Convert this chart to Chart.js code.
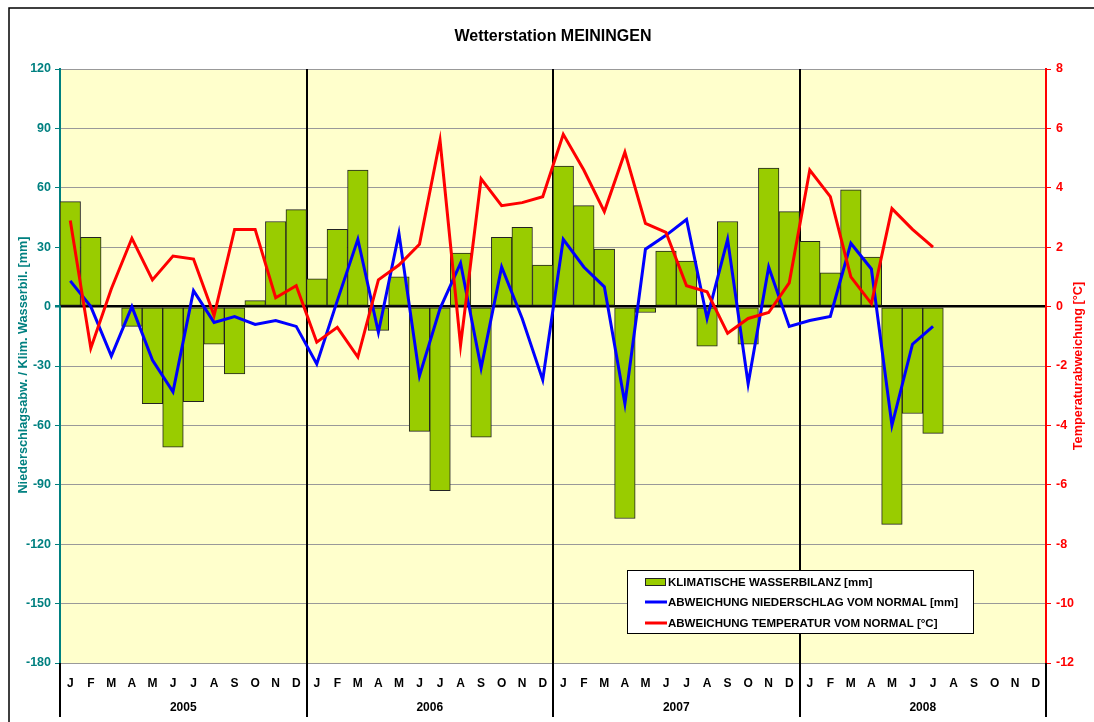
<!DOCTYPE html>
<html>
<head>
<meta charset="utf-8">
<title>Wetterstation MEININGEN</title>
<script src="https://cdn.jsdelivr.net/npm/chart.js@4.4.0/dist/chart.umd.min.js"></script>
<style>
  html, body { margin: 0; padding: 0; background: #fff; }
  #chart { display: block; }
</style>
</head>
<body>
<canvas id="chart" width="1094" height="722"></canvas>
<script>
// --- Data (Jan 2005 - Jul 2008) ---
const months = ['J', 'F', 'M', 'A', 'M', 'J', 'J', 'A', 'S', 'O', 'N', 'D'];
const years = ['2005', '2006', '2007', '2008'];

// climatic water balance [mm]
const waterBalance = [
  53, 35, 0, -10, -49, -71, -48, -19, -34, 3, 43, 49,
  14, 39, 69, -12, 15, -63, -93, 27, -66, 35, 40, 21,
  71, 51, 29, -107, -3, 28, 23, -20, 43, -19, 70, 48,
  33, 17, 59, 25, -110, -54, -64
];

// deviation of precipitation from normal [mm]
const precipDev = [
  13, 0, -25, 0, -27, -43, 8, -8, -5, -9, -7, -10,
  -29, 3, 34, -13, 37, -35, -1, 22, -31, 20, -6, -37,
  34, 20, 10, -49, 29, 36, 44, -6, 34, -39, 20, -10,
  -7, -5, 32, 19, -60, -19, -10
];

// deviation of temperature from normal [°C]
const tempDev = [
  2.9, -1.4, 0.6, 2.3, 0.9, 1.7, 1.6, -0.3, 2.6, 2.6, 0.3, 0.7,
  -1.2, -0.7, -1.7, 0.9, 1.4, 2.1, 5.6, -1.3, 4.3, 3.4, 3.5, 3.7,
  5.8, 4.6, 3.2, 5.2, 2.8, 2.5, 0.7, 0.5, -0.9, -0.4, -0.2, 0.8,
  4.6, 3.7, 1.0, 0.1, 3.3, 2.6, 2.0
];

const legendLabels = [
  'KLIMATISCHE WASSERBILANZ [mm]',
  'ABWEICHUNG NIEDERSCHLAG VOM NORMAL [mm]',
  'ABWEICHUNG TEMPERATUR VOM NORMAL [°C]'
];

// --- Helpers ---
const labels = [];
years.forEach(() => months.forEach(m => labels.push(m)));
const pad = arr => arr.concat(new Array(labels.length - arr.length).fill(null));

const FONT = "'Liberation Sans', Arial, sans-serif";
const TEAL = '#008080';
const BAR_GREEN = '#99CC00';

// --- Custom drawing: background, separators, titles, legend ---
const framePlugin = {
  id: 'frame',
  beforeDraw(chart) {
    const ctx = chart.ctx;
    const a = chart.chartArea;
    ctx.save();
    ctx.fillStyle = '#ffffff';
    ctx.fillRect(0, 0, chart.width, chart.height);
    ctx.fillStyle = '#FFFFCC';
    ctx.fillRect(a.left, a.top, a.right - a.left, a.bottom - a.top);
    ctx.restore();
  },
  beforeDatasetsDraw(chart) {
    const ctx = chart.ctx;
    const a = chart.chartArea;
    const x = chart.scales.x;
    ctx.save();
    ctx.strokeStyle = '#000';
    ctx.lineWidth = 2;
    for (let i = 1; i < years.length; i++) {
      const px = Math.round((x.getPixelForValue(i * 12 - 1) + x.getPixelForValue(i * 12)) / 2);
      ctx.beginPath();
      ctx.moveTo(px, a.top);
      ctx.lineTo(px, 717);
      ctx.stroke();
    }
    ctx.restore();
  },
  afterDraw(chart) {
    const ctx = chart.ctx;
    const a = chart.chartArea;
    const x = chart.scales.x;
    ctx.save();

    // outer frame
    ctx.strokeStyle = '#000';
    ctx.lineWidth = 1.5;
    ctx.beginPath();
    ctx.moveTo(9, 722);
    ctx.lineTo(9, 8);
    ctx.lineTo(1094, 8);
    ctx.stroke();

    // lines below the plot at both ends
    ctx.lineWidth = 2;
    [a.left, a.right].forEach(px => {
      ctx.beginPath();
      ctx.moveTo(px, a.bottom);
      ctx.lineTo(px, 717);
      ctx.stroke();
    });

    // title
    ctx.fillStyle = '#000';
    ctx.font = 'bold 16px ' + FONT;
    ctx.textAlign = 'center';
    ctx.textBaseline = 'middle';
    ctx.fillText('Wetterstation MEININGEN', (a.left + a.right) / 2, 37);

    // year labels
    ctx.font = 'bold 12px ' + FONT;
    years.forEach((y, i) => {
      const cx = (x.getPixelForValue(i * 12 + 5) + x.getPixelForValue(i * 12 + 6)) / 2;
      ctx.fillText(y, cx, 708);
    });

    // axis titles
    ctx.font = 'bold 12.7px ' + FONT;
    ctx.save();
    ctx.translate(23, 365);
    ctx.rotate(-Math.PI / 2);
    ctx.fillStyle = TEAL;
    ctx.fillText('Niederschlagsabw. / Klim. Wasserbil. [mm]', 0, 0);
    ctx.restore();

    ctx.save();
    ctx.translate(1078, 366);
    ctx.rotate(-Math.PI / 2);
    ctx.fillStyle = '#FF0000';
    ctx.fillText('Temperaturabweichung [°C]', 0, 0);
    ctx.restore();

    // legend
    const lx = 627, ly = 570, lw = 346, lh = 63;
    ctx.fillStyle = '#ffffff';
    ctx.fillRect(lx, ly, lw, lh);
    ctx.strokeStyle = '#000';
    ctx.lineWidth = 1;
    ctx.strokeRect(lx + 0.5, ly + 0.5, lw, lh);

    const rows = [582, 602, 623];
    ctx.fillStyle = BAR_GREEN;
    ctx.fillRect(645, rows[0] - 4, 20, 8);
    ctx.strokeStyle = '#222';
    ctx.strokeRect(645.5, rows[0] - 3.5, 20, 7);

    ctx.lineWidth = 3;
    ctx.strokeStyle = '#0000FF';
    ctx.beginPath(); ctx.moveTo(645, rows[1]); ctx.lineTo(667, rows[1]); ctx.stroke();
    ctx.strokeStyle = '#FF0000';
    ctx.beginPath(); ctx.moveTo(645, rows[2]); ctx.lineTo(667, rows[2]); ctx.stroke();

    ctx.fillStyle = '#000';
    ctx.font = 'bold 11.5px ' + FONT;
    ctx.textAlign = 'left';
    legendLabels.forEach((t, i) => ctx.fillText(t, 668, rows[i] + 1));

    ctx.restore();
  }
};

// --- Chart setup ---
const ctx = document.getElementById('chart').getContext('2d');
const chart = new Chart(ctx, {
  type: 'bar',
  data: {
    labels: labels,
    datasets: [
      {
        type: 'line',
        label: legendLabels[2],
        data: pad(tempDev),
        yAxisID: 'y1',
        borderColor: '#FF0000',
        borderWidth: 3,
        pointRadius: 0,
        tension: 0,
        order: 1
      },
      {
        type: 'line',
        label: legendLabels[1],
        data: pad(precipDev),
        yAxisID: 'y',
        borderColor: '#0000FF',
        borderWidth: 3,
        pointRadius: 0,
        tension: 0,
        order: 2
      },
      {
        type: 'bar',
        label: legendLabels[0],
        data: pad(waterBalance),
        yAxisID: 'y',
        backgroundColor: BAR_GREEN,
        borderColor: '#222',
        borderWidth: 1,
        borderSkipped: false,
        barPercentage: 1,
        categoryPercentage: 1,
        order: 3
      }
    ]
  },
  options: {
    responsive: false,
    animation: false,
    devicePixelRatio: 1,
    layout: { padding: { left: 10, right: 8, top: 69, bottom: 0 } },
    plugins: {
      legend: { display: false },
      title: { display: false },
      tooltip: { enabled: false }
    },
    scales: {
      x: {
        offset: true,
        grid: { display: false, drawTicks: false },
        border: { display: false },
        ticks: {
          autoSkip: false,
          maxRotation: 0,
          padding: 13,
          color: '#000',
          font: { family: FONT, size: 12, weight: 'bold' }
        },
        afterFit: s => { s.height = 59; }
      },
      y: {
        position: 'left',
        min: -180,
        max: 120,
        ticks: {
          stepSize: 30,
          padding: 4,
          color: TEAL,
          font: { family: FONT, size: 12.5, weight: 'bold' }
        },
        grid: {
          color: c => c.tick && c.tick.value === 0 ? '#000' : '#999999',
          lineWidth: c => c.tick && c.tick.value === 0 ? 2.5 : 1,
          tickColor: TEAL,
          tickLength: 5
        },
        border: { color: TEAL, width: 2 },
        afterFit: s => { s.width = 50; }
      },
      y1: {
        position: 'right',
        min: -12,
        max: 8,
        ticks: {
          stepSize: 2,
          padding: 5,
          color: '#FF0000',
          font: { family: FONT, size: 12.5, weight: 'bold' }
        },
        grid: { drawOnChartArea: false, tickColor: '#FF0000', tickLength: 5 },
        border: { color: '#FF0000', width: 2 },
        afterFit: s => { s.width = 40; }
      }
    }
  },
  plugins: [framePlugin]
});
</script>
</body>
</html>
